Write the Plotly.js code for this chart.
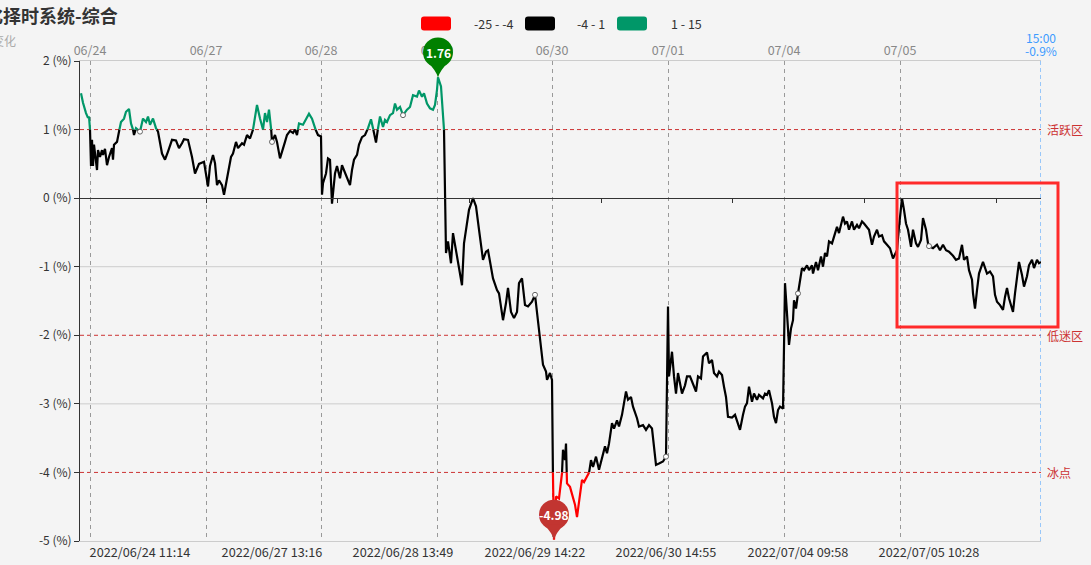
<!DOCTYPE html>
<html>
<head>
<meta charset="utf-8">
<script src="https://cdn.plot.ly/plotly-3.0.1.min.js"></script>
<style>
html,body{margin:0;padding:0;background:#f4f4f4;}
#chart{width:1091px;height:565px;}
</style>
</head>
<body>
<div id="chart"></div>
<script>
// ---- data (bar index, value in %) ----
const idx = [0,2,5,7,8,9,10,11,12,13,16,17,19,21,22,24,26,28,31,32,33,36,38,40,43,45,48,50,52,53,55,59,61,62,65,67,69,72,75,77,81,84,87,91,95,98,101,103,107,111,114,118,123,125,127,129,132,134,136,138,141,143,146,147,150,152,155,157,161,163,166,169,172,174,
176,179,182,184,186,188,190,191,194,196,199,202,204,206,209,212,214,216,218,222,225,228,231,234,237,240,241,242,245,247,249,251,254,256,259,261,263,266,269,271,273,276,278,281,284,287,290,292,295,297,299,302,304,306,309,312,314,316,319,322,326,329,332,336,338,341,343,346,349,352,354,356,357,360,362,363,
364,365,367,370,372,375,377,381,383,386,388,392,395,398,402,405,407,412,416,418,422,425,427,430,433,436,438,441,444,447,451,454,456,459,462,465,466,469,471,472,473,475,478,481,482,484,485,486,489,492,494,496,498,501,503,506,508,510,512,515,518,521,524,526,528,531,533,536,538,541,543,545,547,550,552,556,558,562,565,568,571,573,575,578,582,585,587,588,591,593,595,597,601,604,606,
609,612,615,617,620,622,626,628,631,633,636,638,641,643,645,647,651,654,656,659,662,664,666,668,671,673,676,678,682,684,686,688,691,693,695,697,699,702,703,704,706,707,708,710,712,713,715,717,719,721,723,726,728,731,732,735,737,740,742,744,746,748,751,753,756,758,760,762,764,766,768,771,773,776,778,781,783,786,788,791,793,796,798,801,803,806,
809,812,816,818,821,823,825,827,830,832,835,837,840,842,845,847,848,852,856,859,862,865,868,872,875,878,881,883,886,888,891,892,894,896,898,902,904,906,909,912,914,916,919,922,924,926,928,930,932,934,936,938,941,943,946,948,951,953,956,958,960];
const val = [1.53,1.39,1.24,1.17,1.19,1.00,0.47,0.85,0.47,0.78,0.41,0.70,0.60,0.70,0.63,0.72,0.48,0.60,0.73,0.56,0.78,0.82,0.97,1.11,1.16,1.26,1.30,1.09,1.00,0.92,1.02,0.97,1.09,1.16,1.11,1.19,1.07,1.16,1.02,0.97,0.65,0.56,0.68,0.85,0.84,0.73,0.80,0.86,0.85,0.60,0.36,0.50,0.53,0.34,0.17,0.47,0.63,0.51,0.19,0.26,0.19,0.05,0.29,0.31,0.60,0.65,0.82,0.73,0.80,0.78,0.92,0.87,1.00,1.19,
1.36,1.16,1.00,1.24,1.11,1.29,1.04,0.82,0.92,0.82,0.58,0.75,0.82,0.92,0.98,0.95,1.00,0.92,1.09,1.07,1.14,1.23,1.16,1.02,0.92,0.90,0.05,0.22,0.36,0.58,0.56,-0.08,0.36,0.47,0.29,0.48,0.41,0.31,0.19,0.41,0.56,0.63,0.78,0.89,0.92,1.02,1.15,1.02,0.81,1.02,1.19,1.04,1.14,1.11,1.21,1.24,1.38,1.29,1.33,1.21,1.29,1.33,1.50,1.48,1.57,1.48,1.53,1.38,1.31,1.29,1.36,1.58,1.76,1.63,1.29,1.00,
0.26,-0.80,-0.63,-0.95,-0.51,-0.78,-0.90,-1.27,-0.66,-0.37,-0.17,0.00,-0.12,-0.46,-0.90,-0.78,-0.76,-1.17,-1.34,-1.39,-1.78,-1.53,-1.31,-1.66,-1.75,-1.66,-1.24,-1.17,-1.56,-1.58,-1.51,-1.41,-1.68,-2.02,-2.43,-2.53,-2.65,-2.55,-2.65,-4.11,-4.98,-4.35,-4.38,-4.01,-3.67,-3.82,-3.58,-4.16,-4.21,-4.35,-4.47,-4.65,-4.40,-4.11,-4.14,-4.06,-4.01,-3.82,-3.92,-3.77,-3.96,-3.79,-3.62,-3.72,-3.58,-3.28,-3.36,-3.24,-3.33,-3.16,-2.99,-2.82,-2.94,-2.90,-3.04,-3.21,-3.33,-3.31,-3.38,-3.31,-3.36,-3.62,-3.89,-3.87,-3.84,-3.77,-1.58,-2.60,-2.24,-2.60,-2.85,-2.55,-2.85,-2.73,-2.60,
-2.60,-2.70,-2.82,-2.60,-2.63,-2.31,-2.25,-2.41,-2.36,-2.55,-2.60,-2.53,-2.58,-2.75,-2.90,-3.19,-3.20,-3.16,-3.26,-3.38,-3.16,-3.04,-2.99,-2.75,-2.97,-2.85,-2.94,-2.87,-2.92,-2.85,-2.87,-2.80,-2.99,-3.19,-3.28,-3.09,-3.04,-3.07,-2.17,-1.24,-1.68,-1.92,-2.14,-1.90,-1.78,-1.49,-1.61,-1.39,-1.17,-1.02,-1.05,-0.98,-1.05,-0.98,-1.10,-0.93,-1.05,-0.85,-1.00,-0.80,-0.85,-0.63,-0.66,-0.56,-0.42,-0.51,-0.37,-0.27,-0.37,-0.34,-0.46,-0.34,-0.46,-0.39,-0.44,-0.34,-0.37,-0.42,-0.46,-0.68,-0.56,-0.46,-0.56,-0.54,-0.63,-0.68,
-0.73,-0.88,-0.76,-0.42,0.00,-0.17,-0.37,-0.46,-0.71,-0.46,-0.66,-0.71,-0.61,-0.29,-0.46,-0.66,-0.70,-0.73,-0.68,-0.76,-0.68,-0.76,-0.78,-0.84,-0.90,-0.88,-0.68,-0.90,-0.85,-1.05,-1.19,-1.39,-1.61,-1.34,-1.10,-0.93,-1.02,-1.10,-1.07,-1.14,-1.41,-1.51,-1.56,-1.63,-1.44,-1.31,-1.46,-1.58,-1.66,-1.39,-1.14,-0.93,-1.12,-1.29,-1.14,-0.98,-0.90,-1.02,-0.90,-0.95,-0.93];

const dayIdx = [9,125,240,356,471,587,703,819];
const dayText = ["06/24","06/27","06/28","06/29","06/30","07/01","07/04","07/05"];
const labelIdx = [59,191,322,454,585,717,848];
const labelText = ["2022/06/24 11:14","2022/06/27 13:16","2022/06/28 13:49","2022/06/29 14:22","2022/06/30 14:55","2022/07/04 09:58","2022/07/05 10:28"];
const zeroTickIdx = [125,256,388,520,651,783,915];
const yTicks = [-5,-4,-3,-2,-1,0,1,2];
const zoneLevels = [1,-2,-4];
const zoneNames = ["活跃区","低迷区","冰点"];
const pieceRanges = [[-25,-4],[-4,1],[1,15]];
const pieceColors = ["#ff0000","#000000","#009768"];
const endTime = "15:00";

// ---- split line into colour pieces ----
function cls(v){ return v < -4 ? 0 : (v <= 1 ? 1 : 2); }
const segs = [{x:[],y:[]},{x:[],y:[]},{x:[],y:[]}];
function pushSeg(c,xa,ya,xb,yb){
  const s=segs[c]; const n=s.x.length;
  if(n && s.x[n-1]===xa && s.y[n-1]===ya){ s.x.push(xb); s.y.push(yb); }
  else { if(n){ s.x.push(null); s.y.push(null);} s.x.push(xa,xb); s.y.push(ya,yb); }
}
for(let i=0;i<idx.length-1;i++){
  const x0=idx[i], v0=val[i], x1=idx[i+1], v1=val[i+1];
  const pts=[[x0,v0]];
  [1,-4].forEach(th=>{ if((v0-th)*(v1-th)<0){ pts.push([x0+(th-v0)/(v1-v0)*(x1-x0), th]); } });
  pts.sort((a,b)=>a[0]-b[0]);
  pts.push([x1,v1]);
  for(let k=0;k<pts.length-1;k++){
    const a=pts[k], b=pts[k+1];
    pushSeg(cls((a[1]+b[1])/2), a[0],a[1],b[0],b[1]);
  }
}

const traces = [];
[1,2,0].forEach(c=>{
  traces.push({type:'scatter',mode:'lines',x:segs[c].x,y:segs[c].y,
    line:{color:pieceColors[c],width:2.2},connectgaps:false,hoverinfo:'skip',showlegend:false});
});
// hollow symbols at labelled points
const symY = labelIdx.map(li=>val[idx.indexOf(li)]);
traces.push({type:'scatter',mode:'markers',x:labelIdx,y:symY,
  marker:{symbol:'circle',size:5,color:'#ffffff',line:{color:'#666',width:1}},hoverinfo:'skip',showlegend:false});
// invisible traces for overlay axes
traces.push({type:'scatter',mode:'markers',x:[idx[0]],y:[val[0]],xaxis:'x2',marker:{opacity:0},hoverinfo:'skip',showlegend:false});
traces.push({type:'scatter',mode:'markers',x:[idx[0]],y:[val[0]],xaxis:'x3',marker:{opacity:0},hoverinfo:'skip',showlegend:false});

// ---- layout helpers ----
const L=80, R=1041, T=61, B=541;
const W=R-L, H=B-T;
const px=(p)=>(p-L)/W;
const py=(p)=>(B-p)/H;
const xr=[-1,960];
const yr=[-5,2];
const xFrac=(x)=>(x-xr[0])/(xr[1]-xr[0]);
const yFrac=(y)=>(y-yr[0])/(yr[1]-yr[0]);

const font = "'Noto Sans CJK SC','Noto Sans',sans-serif";
const shapes = [];
const annotations = [];

// grey gridlines at -1, -3
[-1,-3].forEach(v=>shapes.push({type:'line',xref:'paper',yref:'y',x0:0,x1:1,y0:v,y1:v,line:{color:'#cccccc',width:1},layer:'below'}));
// red zone lines
zoneLevels.forEach((v,i)=>{
  shapes.push({type:'line',xref:'paper',yref:'y',x0:0,x1:1,y0:v,y1:v,line:{color:'#cc3333',width:1,dash:'4px,3px'},layer:'below'});
  annotations.push({xref:'paper',yref:'y',x:1,y:v,xanchor:'left',yanchor:'middle',xshift:4,text:zoneNames[i],showarrow:false,font:{family:font,size:12,color:'#cc3333'}});
});
// end-of-day blue line
const lastX = idx[idx.length-1], lastV = val[val.length-1];
shapes.push({type:'line',xref:'x',yref:'paper',x0:lastX,x1:lastX,y0:0,y1:1,line:{color:'#3d9bff',width:1,dash:'4px,3px'},layer:'above'});
annotations.push({xref:'x',yref:'paper',x:lastX,y:py(37.5),text:endTime,showarrow:false,xanchor:'center',yanchor:'middle',font:{family:font,size:12,color:'#3d9bff'}});
annotations.push({xref:'x',yref:'paper',x:lastX,y:py(50.5),text:lastV.toFixed(1)+'%',showarrow:false,xanchor:'center',yanchor:'middle',font:{family:font,size:12,color:'#3d9bff'}});

// highlight rectangle
shapes.push({type:'rect',xref:'paper',yref:'paper',x0:px(897),x1:px(1058),y0:py(327),y1:py(183),line:{color:'#ff2a2a',width:3},layer:'above'});

// pins for max / min (paper-referenced so they are not clipped at the plot edge)
function pin(xv,yv,color,txt){
  const ax=xFrac(xv), ay=yFrac(yv);
  shapes.push({type:'circle',xref:'paper',yref:'paper',xsizemode:'pixel',ysizemode:'pixel',xanchor:ax,yanchor:ay,x0:-15,x1:15,y0:10,y1:40,fillcolor:color,line:{width:0},layer:'above'});
  shapes.push({type:'path',xref:'paper',yref:'paper',xsizemode:'pixel',ysizemode:'pixel',xanchor:ax,yanchor:ay,path:'M -10 15 Q -2 7 0 0 Q 2 7 10 15 Z',fillcolor:color,line:{width:0},layer:'above'});
  annotations.push({xref:'paper',yref:'paper',x:ax,y:ay,yshift:25,xanchor:'center',yanchor:'middle',text:'<b>'+txt+'</b>',showarrow:false,font:{family:font,size:12,color:'#ffffff'}});
}
let iMax=0,iMin=0;
val.forEach((v,i)=>{ if(v>val[iMax]) iMax=i; if(v<val[iMin]) iMin=i; });
pin(idx[iMax],val[iMax],'#008000',val[iMax].toFixed(2));
pin(idx[iMin],val[iMin],'#c23531',val[iMin].toFixed(2));

// legend (visual map pieces)
function rrect(cx,cy,w,h,r,color){
  const a=w/2,b=h/2;
  const p=`M ${-a+r} ${b} L ${a-r} ${b} Q ${a} ${b} ${a} ${b-r} L ${a} ${-b+r} Q ${a} ${-b} ${a-r} ${-b} L ${-a+r} ${-b} Q ${-a} ${-b} ${-a} ${-b+r} L ${-a} ${b-r} Q ${-a} ${b} ${-a+r} ${b} Z`;
  shapes.push({type:'path',xref:'paper',yref:'paper',xsizemode:'pixel',ysizemode:'pixel',xanchor:px(cx),yanchor:py(cy),path:p,fillcolor:color,line:{width:0},layer:'above'});
}
const legRectX=[436,540,632], legTextX=[493,591,686];
pieceRanges.forEach((r,i)=>{
  rrect(legRectX[i],23.5,30,14,3,pieceColors[i]);
  annotations.push({xref:'paper',yref:'paper',x:px(legTextX[i]),y:py(23),text:r[0]+' - '+r[1],showarrow:false,xanchor:'center',yanchor:'middle',font:{family:font,size:12.5,color:'#333'}});
});

// titles
annotations.push({xref:'paper',yref:'paper',x:px(120),y:py(15),xanchor:'right',yanchor:'middle',text:'<b>量化择时系统-综合</b>',showarrow:false,font:{family:font,size:18,color:'#333'}});
annotations.push({xref:'paper',yref:'paper',x:px(18),y:py(40),xanchor:'right',yanchor:'middle',text:'指数变化',showarrow:false,font:{family:font,size:12,color:'#aaaaaa'}});

const layout = {
  width:1091,height:565,
  margin:{l:L,r:1091-R,t:T,b:565-B,pad:0},
  paper_bgcolor:'#f4f4f4',plot_bgcolor:'#f4f4f4',
  font:{family:font,size:12,color:'#333'},
  showlegend:false,
  xaxis:{range:xr,tickmode:'array',tickvals:labelIdx,ticktext:labelText,ticks:'',showgrid:false,zeroline:false,
    showline:true,linecolor:'#cccccc',linewidth:1,tickfont:{size:12.7,color:'#333'},fixedrange:true},
  xaxis2:{range:xr,overlaying:'x',side:'top',anchor:'y',tickmode:'array',tickvals:dayIdx,ticktext:dayText,ticks:'',
    showgrid:true,gridcolor:'#999999',gridwidth:1,griddash:'4px,4px',zeroline:false,showline:true,linecolor:'#cccccc',
    tickfont:{size:12.5,color:'#888'},fixedrange:true},
  xaxis3:{range:xr,overlaying:'x',anchor:'free',position:yFrac(0),tickmode:'array',tickvals:zeroTickIdx,showticklabels:false,
    ticks:'outside',ticklen:4,tickcolor:'#333',showgrid:false,zeroline:false,showline:true,linecolor:'#333',linewidth:1,fixedrange:true},
  yaxis:{range:yr,tickmode:'array',tickvals:yTicks,ticktext:yTicks.map(v=>v+' (%)'),ticks:'outside',ticklen:5,tickcolor:'#333',
    showgrid:false,zeroline:false,showline:true,linecolor:'#333',linewidth:1,tickfont:{size:12,color:'#333'},fixedrange:true},
  shapes:shapes,
  annotations:annotations
};
Plotly.newPlot('chart',traces,layout,{staticPlot:true});
</script>
</body>
</html>
